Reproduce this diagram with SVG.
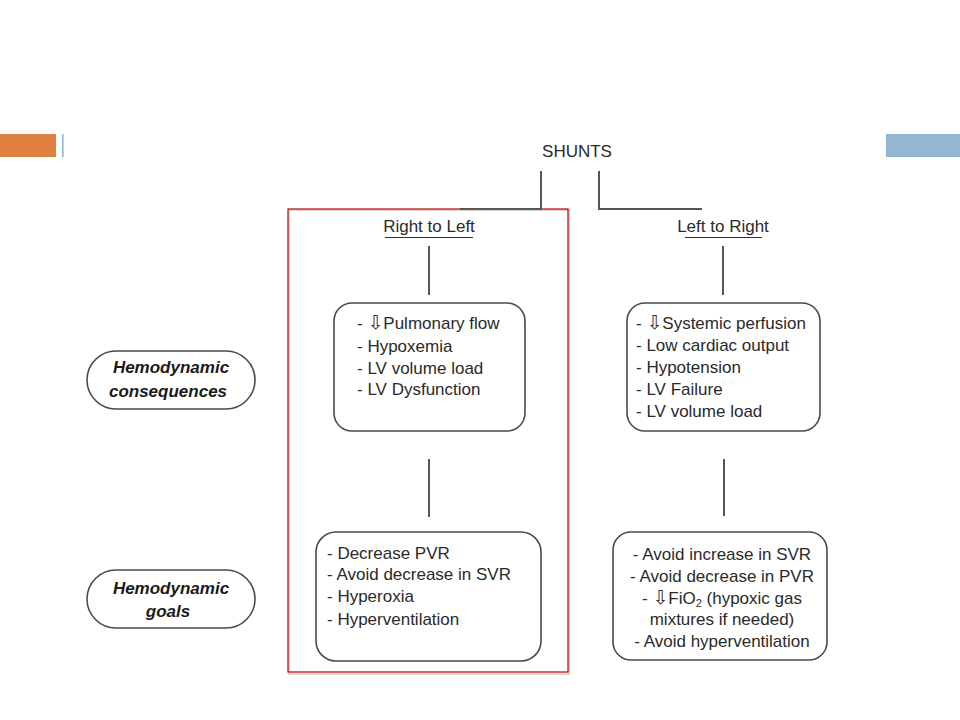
<svg xmlns="http://www.w3.org/2000/svg" width="960" height="720" viewBox="0 0 960 720">
<style>
.t{font-family:"Liberation Sans",Arial,sans-serif;font-size:17px;fill:#2a2a2a}
.h{font-family:"Liberation Sans",Arial,sans-serif;font-size:17px;font-weight:bold;font-style:italic;fill:#1a1a1a;text-anchor:middle}
.box{fill:#fff;stroke:#4a4a4a;stroke-width:1.6}
.ln{stroke:#555;stroke-width:2;fill:none}
.ar{font-family:"DejaVu Sans",sans-serif;font-size:19px}
</style>
<rect width="960" height="720" fill="#fff"/>
<g id="decor">
<rect x="0" y="134" width="56" height="23" fill="#DF8041"/>
<rect x="62" y="134" width="1.6" height="23" fill="#94B6D2"/>
<rect x="886" y="134" width="74" height="23" fill="#94B6D2"/>
</g>
<g id="highlight">
<rect x="289" y="210" width="280" height="464" fill="none" stroke="#d8d8d8" stroke-width="2"/>
<rect x="288" y="209" width="280" height="463" fill="none" stroke="#C00000" stroke-width="1.2"/>
</g>
<g id="connectors">
<path class="ln" d="M541 171 V209 H460"/>
<path class="ln" d="M599 171 V209 H702"/>
<path class="ln" d="M429 246 V295"/>
<path class="ln" d="M723 246 V295"/>
<path class="ln" d="M429 459 V517"/>
<path class="ln" d="M724 459 V516"/>
</g>
<g id="shunts"><text class="t" x="577" y="157" text-anchor="middle">SHUNTS</text></g>
<g id="rtl">
<text class="t" x="429" y="232" text-anchor="middle">Right to Left</text>
<line x1="385" y1="237.5" x2="473" y2="237.5" stroke="#333" stroke-width="1.2"/>
</g>
<g id="ltr">
<text class="t" x="723" y="232" text-anchor="middle">Left to Right</text>
<line x1="685" y1="237.5" x2="762" y2="237.5" stroke="#333" stroke-width="1.2"/>
</g>
<g id="rtl-consequences">
<rect class="box" x="334" y="303" width="191" height="128" rx="18"/>
<text class="t" x="357" y="329">- <tspan class="ar">⇩</tspan>Pulmonary flow</text>
<text class="t" x="357" y="352">- Hypoxemia</text>
<text class="t" x="357" y="374">- LV volume load</text>
<text class="t" x="357" y="395">- LV Dysfunction</text>
</g>
<g id="ltr-consequences">
<rect class="box" x="627" y="303" width="193" height="128" rx="18"/>
<text class="t" x="636" y="329">- <tspan class="ar">⇩</tspan>Systemic perfusion</text>
<text class="t" x="636" y="351">- Low cardiac output</text>
<text class="t" x="636" y="373">- Hypotension</text>
<text class="t" x="636" y="395">- LV Failure</text>
<text class="t" x="636" y="417">- LV volume load</text>
</g>
<g id="rtl-goals">
<rect class="box" x="316" y="532" width="225" height="129" rx="20"/>
<text class="t" x="327" y="559">- Decrease PVR</text>
<text class="t" x="327" y="580">- Avoid decrease in SVR</text>
<text class="t" x="327" y="602">- Hyperoxia</text>
<text class="t" x="327" y="625">- Hyperventilation</text>
</g>
<g id="ltr-goals">
<rect class="box" x="613" y="532" width="214" height="128" rx="18"/>
<text class="t" x="722" y="560" text-anchor="middle">- Avoid increase in SVR</text>
<text class="t" x="722" y="582" text-anchor="middle">- Avoid decrease in PVR</text>
<text class="t" x="722" y="604" text-anchor="middle">- <tspan class="ar">⇩</tspan>FiO<tspan font-size="11" dy="3">2</tspan><tspan dy="-3"> (hypoxic gas</tspan></text>
<text class="t" x="722" y="625" text-anchor="middle">mixtures if needed)</text>
<text class="t" x="722" y="647" text-anchor="middle">- Avoid hyperventilation</text>
</g>
<g id="label-consequences">
<rect class="box" x="87" y="351" width="168" height="58" rx="29"/>
<text class="h" x="171" y="373">Hemodynamic</text>
<text class="h" x="168" y="397">consequences</text>
</g>
<g id="label-goals">
<rect class="box" x="87" y="570" width="168" height="58" rx="29"/>
<text class="h" x="171" y="594">Hemodynamic</text>
<text class="h" x="168" y="617">goals</text>
</g>
</svg>
